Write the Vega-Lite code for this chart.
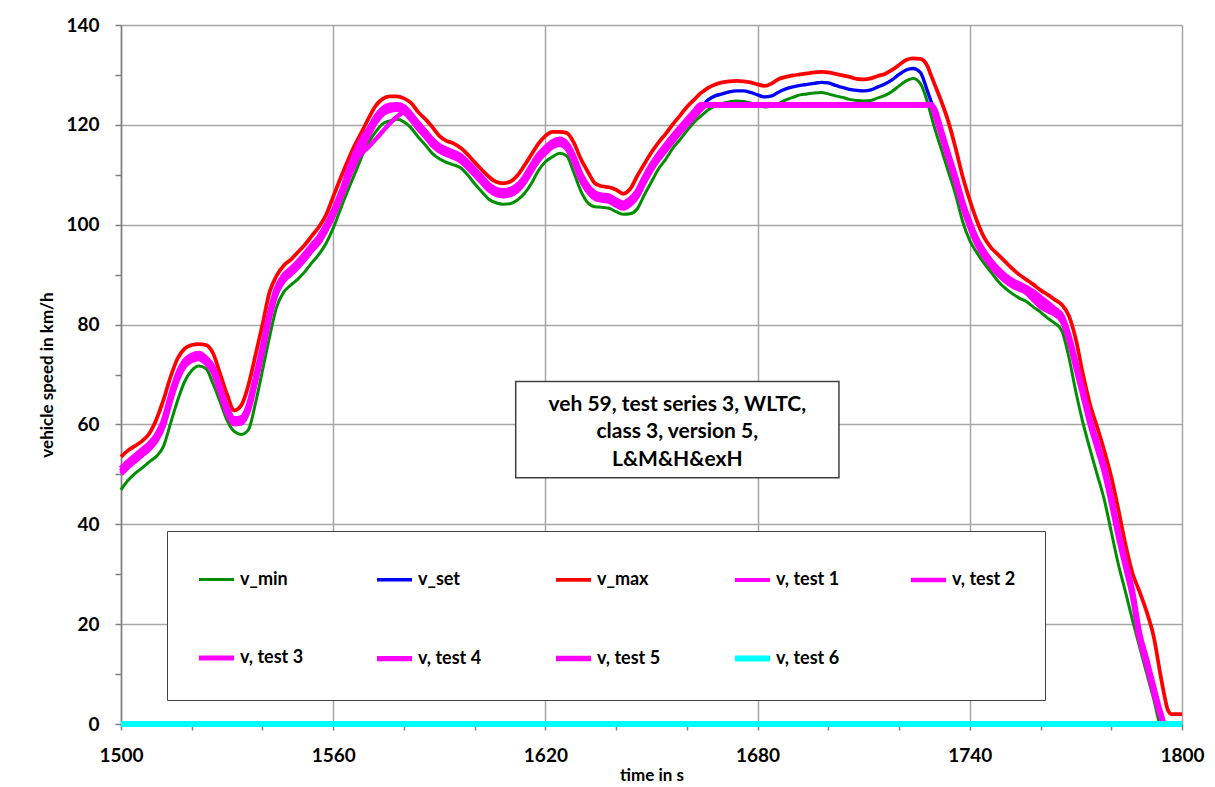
{
  "$schema": "https://vega.github.io/schema/vega-lite/v6.json",
  "width": 1061,
  "height": 699,
  "autosize": {"type": "none"},
  "padding": {"left": 121, "top": 25, "right": 33, "bottom": 63},
  "background": "white",
  "config": {
    "font": "Lato",
    "view": {"stroke": null},
    "axis": {"labelFont": "Lato", "titleFont": "Lato", "labelColor": "black", "titleColor": "black"}
  },
  "layer": [
    {
      "data": {
        "values": [
          {"time":1500,"vmin":46.9,"vset":50.6,"vmax":53.5,"t1":50.6,"t2":50.6,"t3":50.6,"t4":50.1,"t5":51.1,"t6":0},
          {"time":1502,"vmin":48.8,"vset":52.0,"vmax":54.8,"t1":52.0,"t2":52.0,"t3":52.0,"t4":51.5,"t5":52.5},
          {"time":1504,"vmin":50.2,"vset":53.2,"vmax":55.7,"t1":53.2,"t2":53.2,"t3":53.2,"t4":52.7,"t5":53.7},
          {"time":1506,"vmin":51.3,"vset":54.4,"vmax":56.7,"t1":54.4,"t2":54.4,"t3":54.4,"t4":53.9,"t5":54.9},
          {"time":1508,"vmin":52.5,"vset":55.6,"vmax":58.2,"t1":55.6,"t2":55.6,"t3":55.6,"t4":55.1,"t5":56.1},
          {"time":1510,"vmin":53.6,"vset":57.3,"vmax":61.0,"t1":57.3,"t2":57.3,"t3":57.3,"t4":56.8,"t5":57.8},
          {"time":1512,"vmin":55.6,"vset":60.2,"vmax":64.9,"t1":60.2,"t2":60.2,"t3":60.2,"t4":59.7,"t5":60.7},
          {"time":1514,"vmin":60.2,"vset":65.2,"vmax":69.5,"t1":65.2,"t2":65.2,"t3":65.2,"t4":64.7,"t5":65.7},
          {"time":1516,"vmin":64.8,"vset":69.5,"vmax":73.2,"t1":69.5,"t2":69.5,"t3":69.5,"t4":69.0,"t5":70.0},
          {"time":1518,"vmin":68.6,"vset":72.2,"vmax":75.2,"t1":72.2,"t2":72.2,"t3":72.2,"t4":71.7,"t5":72.7},
          {"time":1520,"vmin":70.8,"vset":73.3,"vmax":75.9,"t1":73.3,"t2":73.3,"t3":73.3,"t4":72.8,"t5":73.8},
          {"time":1522,"vmin":71.7,"vset":73.7,"vmax":76.1,"t1":73.7,"t2":73.7,"t3":73.7,"t4":73.2,"t5":74.2},
          {"time":1524,"vmin":71.2,"vset":72.8,"vmax":75.9,"t1":72.8,"t2":72.8,"t3":72.8,"t4":72.3,"t5":73.3},
          {"time":1526,"vmin":68.2,"vset":71.0,"vmax":74.3,"t1":71.0,"t2":71.0,"t3":71.0,"t4":70.5,"t5":71.5},
          {"time":1528,"vmin":64.6,"vset":67.0,"vmax":70.2,"t1":67.0,"t2":67.0,"t3":67.0,"t4":66.5,"t5":67.5},
          {"time":1530,"vmin":60.8,"vset":62.8,"vmax":66.0,"t1":62.8,"t2":62.8,"t3":62.8,"t4":62.3,"t5":63.3},
          {"time":1532,"vmin":58.6,"vset":60.6,"vmax":62.8,"t1":60.6,"t2":60.6,"t3":60.6,"t4":60.1,"t5":61.1},
          {"time":1534,"vmin":58.0,"vset":60.8,"vmax":63.8,"t1":60.8,"t2":60.8,"t3":60.8,"t4":60.3,"t5":61.3},
          {"time":1536,"vmin":58.9,"vset":63.2,"vmax":67.8,"t1":63.2,"t2":63.2,"t3":63.2,"t4":62.7,"t5":63.7},
          {"time":1538,"vmin":64.2,"vset":68.8,"vmax":73.8,"t1":68.8,"t2":68.8,"t3":68.8,"t4":68.3,"t5":69.3},
          {"time":1540,"vmin":70.8,"vset":75.0,"vmax":80.0,"t1":75.0,"t2":75.0,"t3":75.0,"t4":74.5,"t5":75.5},
          {"time":1542,"vmin":77.5,"vset":81.8,"vmax":86.5,"t1":81.8,"t2":81.8,"t3":81.8,"t4":81.3,"t5":82.3},
          {"time":1544,"vmin":83.5,"vset":86.8,"vmax":89.8,"t1":86.8,"t2":86.8,"t3":86.8,"t4":86.3,"t5":87.3},
          {"time":1546,"vmin":86.5,"vset":89.3,"vmax":91.8,"t1":89.3,"t2":89.3,"t3":89.3,"t4":88.8,"t5":89.8},
          {"time":1548,"vmin":87.9,"vset":90.6,"vmax":93.0,"t1":90.6,"t2":90.6,"t3":90.6,"t4":90.1,"t5":91.1},
          {"time":1550,"vmin":89.1,"vset":92.0,"vmax":94.5,"t1":92.0,"t2":92.0,"t3":92.0,"t4":91.5,"t5":92.5},
          {"time":1552,"vmin":90.6,"vset":93.6,"vmax":96.0,"t1":93.6,"t2":93.6,"t3":93.6,"t4":93.1,"t5":94.1},
          {"time":1554,"vmin":92.4,"vset":95.4,"vmax":97.8,"t1":95.4,"t2":95.4,"t3":95.4,"t4":94.9,"t5":95.9},
          {"time":1556,"vmin":94.1,"vset":97.0,"vmax":99.6,"t1":97.0,"t2":97.0,"t3":97.0,"t4":96.5,"t5":97.5},
          {"time":1558,"vmin":96.3,"vset":99.4,"vmax":102.0,"t1":99.4,"t2":99.4,"t3":99.4,"t4":98.9,"t5":99.9},
          {"time":1560,"vmin":99.3,"vset":102.2,"vmax":105.6,"t1":102.2,"t2":102.2,"t3":102.2,"t4":101.7,"t5":102.7},
          {"time":1562,"vmin":103.0,"vset":105.6,"vmax":109.2,"t1":105.6,"t2":105.6,"t3":105.6,"t4":105.1,"t5":106.1},
          {"time":1564,"vmin":106.6,"vset":109.2,"vmax":112.6,"t1":109.2,"t2":109.2,"t3":110.5,"t4":108.7,"t5":109.7},
          {"time":1566,"vmin":110.0,"vset":112.6,"vmax":115.8,"t1":112.6,"t2":112.3,"t3":114.2,"t4":112.1,"t5":113.1},
          {"time":1568,"vmin":113.5,"vset":115.6,"vmax":118.5,"t1":115.6,"t2":114.2,"t3":117.2,"t4":115.1,"t5":116.1},
          {"time":1570,"vmin":116.5,"vset":118.4,"vmax":121.3,"t1":118.4,"t2":115.6,"t3":119.2,"t4":117.9,"t5":118.9},
          {"time":1572,"vmin":118.6,"vset":121.0,"vmax":123.8,"t1":121.0,"t2":117.1,"t3":121.2,"t4":120.5,"t5":121.5},
          {"time":1574,"vmin":120.2,"vset":122.7,"vmax":125.2,"t1":122.7,"t2":118.7,"t3":122.7,"t4":122.2,"t5":123.2},
          {"time":1576,"vmin":120.8,"vset":123.4,"vmax":125.7,"t1":123.4,"t2":120.3,"t3":123.4,"t4":122.9,"t5":123.9},
          {"time":1578,"vmin":121.1,"vset":123.6,"vmax":125.7,"t1":123.6,"t2":121.6,"t3":123.6,"t4":123.1,"t5":124.0},
          {"time":1580,"vmin":120.6,"vset":123.1,"vmax":125.3,"t1":123.1,"t2":122.5,"t3":123.1,"t4":122.6,"t5":123.6},
          {"time":1582,"vmin":119.4,"vset":121.6,"vmax":124.4,"t1":121.6,"t2":121.7,"t3":121.6,"t4":121.1,"t5":122.1},
          {"time":1584,"vmin":117.6,"vset":119.8,"vmax":122.6,"t1":119.8,"t2":119.8,"t3":119.8,"t4":119.3,"t5":120.3},
          {"time":1586,"vmin":116.0,"vset":118.2,"vmax":121.2,"t1":118.2,"t2":118.2,"t3":118.2,"t4":117.7,"t5":118.7},
          {"time":1588,"vmin":114.3,"vset":116.5,"vmax":119.6,"t1":116.5,"t2":116.5,"t3":116.5,"t4":116.0,"t5":117.0},
          {"time":1590,"vmin":113.2,"vset":115.3,"vmax":117.8,"t1":115.3,"t2":115.3,"t3":115.3,"t4":114.8,"t5":115.8},
          {"time":1592,"vmin":112.5,"vset":114.6,"vmax":116.8,"t1":114.6,"t2":114.6,"t3":114.6,"t4":114.1,"t5":115.1},
          {"time":1594,"vmin":112.0,"vset":114.0,"vmax":116.3,"t1":114.0,"t2":114.0,"t3":114.0,"t4":113.5,"t5":114.5},
          {"time":1596,"vmin":111.4,"vset":113.3,"vmax":115.4,"t1":113.3,"t2":113.3,"t3":113.3,"t4":112.8,"t5":113.8},
          {"time":1598,"vmin":110.0,"vset":112.0,"vmax":114.1,"t1":112.0,"t2":112.0,"t3":112.0,"t4":111.5,"t5":112.5},
          {"time":1600,"vmin":108.2,"vset":110.5,"vmax":112.5,"t1":110.5,"t2":110.5,"t3":110.5,"t4":110.0,"t5":111.0},
          {"time":1602,"vmin":106.6,"vset":109.0,"vmax":111.0,"t1":109.0,"t2":109.0,"t3":109.0,"t4":108.5,"t5":109.5},
          {"time":1604,"vmin":105.1,"vset":107.5,"vmax":109.6,"t1":107.5,"t2":107.5,"t3":107.5,"t4":107.0,"t5":108.0},
          {"time":1606,"vmin":104.4,"vset":106.6,"vmax":108.6,"t1":106.6,"t2":106.6,"t3":106.6,"t4":106.1,"t5":107.1},
          {"time":1608,"vmin":104.1,"vset":106.3,"vmax":108.3,"t1":106.3,"t2":106.3,"t3":106.3,"t4":105.8,"t5":106.8},
          {"time":1610,"vmin":104.2,"vset":106.5,"vmax":108.6,"t1":106.5,"t2":106.5,"t3":106.5,"t4":106.0,"t5":107.0},
          {"time":1612,"vmin":104.9,"vset":107.3,"vmax":109.8,"t1":107.3,"t2":107.3,"t3":107.3,"t4":106.8,"t5":107.8},
          {"time":1614,"vmin":106.2,"vset":108.9,"vmax":111.8,"t1":108.9,"t2":108.9,"t3":108.9,"t4":108.4,"t5":109.4},
          {"time":1616,"vmin":108.2,"vset":111.2,"vmax":114.0,"t1":111.2,"t2":111.2,"t3":111.2,"t4":110.7,"t5":111.7},
          {"time":1618,"vmin":110.8,"vset":113.4,"vmax":116.2,"t1":113.4,"t2":113.4,"t3":113.4,"t4":112.9,"t5":113.9},
          {"time":1620,"vmin":112.6,"vset":114.9,"vmax":117.8,"t1":114.9,"t2":114.9,"t3":114.9,"t4":114.4,"t5":115.4},
          {"time":1622,"vmin":113.6,"vset":116.1,"vmax":118.6,"t1":116.1,"t2":116.1,"t3":116.1,"t4":115.6,"t5":116.6},
          {"time":1624,"vmin":114.3,"vset":116.6,"vmax":118.6,"t1":116.6,"t2":116.6,"t3":116.6,"t4":116.1,"t5":117.1},
          {"time":1626,"vmin":113.8,"vset":115.8,"vmax":118.4,"t1":115.8,"t2":115.8,"t3":115.8,"t4":115.3,"t5":116.3},
          {"time":1628,"vmin":110.5,"vset":113.2,"vmax":116.5,"t1":113.2,"t2":113.2,"t3":113.2,"t4":112.7,"t5":113.7},
          {"time":1630,"vmin":106.8,"vset":109.6,"vmax":113.2,"t1":109.6,"t2":109.6,"t3":109.6,"t4":109.1,"t5":110.1},
          {"time":1632,"vmin":104.4,"vset":107.2,"vmax":110.6,"t1":107.2,"t2":107.2,"t3":107.2,"t4":106.7,"t5":107.7},
          {"time":1634,"vmin":103.6,"vset":105.8,"vmax":108.3,"t1":105.8,"t2":105.8,"t3":105.8,"t4":105.3,"t5":106.3},
          {"time":1636,"vmin":103.5,"vset":105.4,"vmax":107.7,"t1":105.4,"t2":105.4,"t3":105.4,"t4":104.9,"t5":105.9},
          {"time":1638,"vmin":103.3,"vset":105.2,"vmax":107.5,"t1":105.2,"t2":105.2,"t3":105.2,"t4":104.7,"t5":105.7},
          {"time":1640,"vmin":102.6,"vset":104.4,"vmax":107.0,"t1":104.4,"t2":104.4,"t3":104.4,"t4":103.9,"t5":104.9},
          {"time":1642,"vmin":102.1,"vset":103.8,"vmax":106.2,"t1":103.8,"t2":103.8,"t3":103.8,"t4":103.3,"t5":104.3},
          {"time":1644,"vmin":102.2,"vset":104.6,"vmax":107.2,"t1":104.6,"t2":104.6,"t3":104.6,"t4":104.1,"t5":105.1},
          {"time":1646,"vmin":103.2,"vset":106.2,"vmax":109.8,"t1":106.2,"t2":106.2,"t3":106.2,"t4":105.7,"t5":106.7},
          {"time":1648,"vmin":106.0,"vset":109.0,"vmax":112.2,"t1":109.0,"t2":109.0,"t3":109.0,"t4":108.5,"t5":109.5},
          {"time":1650,"vmin":108.6,"vset":111.5,"vmax":114.5,"t1":111.5,"t2":111.5,"t3":111.5,"t4":111.0,"t5":112.0},
          {"time":1652,"vmin":111.2,"vset":113.6,"vmax":116.5,"t1":113.6,"t2":113.6,"t3":113.6,"t4":113.1,"t5":114.1},
          {"time":1654,"vmin":113.1,"vset":115.4,"vmax":118.2,"t1":115.4,"t2":115.4,"t3":115.4,"t4":114.9,"t5":115.9},
          {"time":1656,"vmin":115.3,"vset":117.2,"vmax":120.1,"t1":117.2,"t2":117.2,"t3":117.2,"t4":116.7,"t5":117.7},
          {"time":1658,"vmin":117.0,"vset":118.9,"vmax":121.8,"t1":118.9,"t2":118.9,"t3":118.9,"t4":118.4,"t5":119.4},
          {"time":1660,"vmin":118.8,"vset":120.5,"vmax":123.6,"t1":120.5,"t2":120.5,"t3":120.5,"t4":120.0,"t5":121.0},
          {"time":1662,"vmin":120.5,"vset":122.1,"vmax":125.0,"t1":122.1,"t2":122.1,"t3":122.1,"t4":121.6,"t5":122.6},
          {"time":1664,"vmin":121.8,"vset":123.6,"vmax":126.4,"t1":123.6,"t2":123.6,"t3":123.6,"t4":123.1,"t5":124.0},
          {"time":1665,"vmin":122.4,"vset":124.3,"vmax":126.9,"t1":124.0,"t2":124.0,"t3":124.0,"t4":123.7,"t5":124.0},
          {"time":1666,"vmin":123.0,"vset":125.0,"vmax":127.4,"t1":124.0,"t2":124.0,"t3":124.0,"t4":124.0,"t5":124.0},
          {"time":1668,"vmin":123.8,"vset":125.8,"vmax":128.1,"t1":124.0,"t2":124.0,"t3":124.0,"t4":124.0,"t5":124.0},
          {"time":1670,"vmin":124.3,"vset":126.2,"vmax":128.5,"t1":124.0,"t2":124.0,"t3":124.0,"t4":124.0,"t5":124.0},
          {"time":1672,"vmin":124.6,"vset":126.6,"vmax":128.7,"t1":124.0,"t2":124.0,"t3":124.0,"t4":124.0,"t5":124.0},
          {"time":1674,"vmin":124.8,"vset":126.8,"vmax":128.8,"t1":124.0,"t2":124.0,"t3":124.0,"t4":124.0,"t5":124.0},
          {"time":1676,"vmin":124.7,"vset":126.8,"vmax":128.7,"t1":124.0,"t2":124.0,"t3":124.0,"t4":124.0,"t5":124.0},
          {"time":1678,"vmin":124.4,"vset":126.5,"vmax":128.5,"t1":124.0,"t2":124.0,"t3":124.0,"t4":124.0,"t5":124.0},
          {"time":1680,"vmin":123.9,"vset":126.0,"vmax":128.1,"t1":124.0,"t2":124.0,"t3":124.0,"t4":124.0,"t5":124.0},
          {"time":1682,"vmin":123.6,"vset":125.6,"vmax":127.8,"t1":124.0,"t2":124.0,"t3":124.0,"t4":124.0,"t5":124.0},
          {"time":1684,"vmin":123.7,"vset":125.8,"vmax":128.3,"t1":124.0,"t2":124.0,"t3":124.0,"t4":124.0,"t5":124.0},
          {"time":1686,"vmin":124.3,"vset":126.6,"vmax":129.2,"t1":124.0,"t2":124.0,"t3":124.0,"t4":124.0,"t5":124.0},
          {"time":1688,"vmin":125.0,"vset":127.2,"vmax":129.6,"t1":124.0,"t2":124.0,"t3":124.0,"t4":124.0,"t5":124.0},
          {"time":1690,"vmin":125.5,"vset":127.6,"vmax":129.9,"t1":124.0,"t2":124.0,"t3":124.0,"t4":124.0,"t5":124.0},
          {"time":1692,"vmin":126.0,"vset":127.9,"vmax":130.1,"t1":124.0,"t2":124.0,"t3":124.0,"t4":124.0,"t5":124.0},
          {"time":1694,"vmin":126.2,"vset":128.1,"vmax":130.3,"t1":124.0,"t2":124.0,"t3":124.0,"t4":124.0,"t5":124.0},
          {"time":1696,"vmin":126.4,"vset":128.3,"vmax":130.5,"t1":124.0,"t2":124.0,"t3":124.0,"t4":124.0,"t5":124.0},
          {"time":1698,"vmin":126.5,"vset":128.5,"vmax":130.6,"t1":124.0,"t2":124.0,"t3":124.0,"t4":124.0,"t5":124.0},
          {"time":1700,"vmin":126.2,"vset":128.4,"vmax":130.5,"t1":124.0,"t2":124.0,"t3":124.0,"t4":124.0,"t5":124.0},
          {"time":1702,"vmin":125.8,"vset":127.9,"vmax":130.2,"t1":124.0,"t2":124.0,"t3":124.0,"t4":124.0,"t5":124.0},
          {"time":1704,"vmin":125.5,"vset":127.5,"vmax":129.9,"t1":124.0,"t2":124.0,"t3":124.0,"t4":124.0,"t5":124.0},
          {"time":1706,"vmin":125.1,"vset":127.1,"vmax":129.6,"t1":124.0,"t2":124.0,"t3":124.0,"t4":124.0,"t5":124.0},
          {"time":1708,"vmin":124.9,"vset":126.9,"vmax":129.2,"t1":124.0,"t2":124.0,"t3":124.0,"t4":124.0,"t5":124.0},
          {"time":1710,"vmin":124.8,"vset":126.8,"vmax":129.1,"t1":124.0,"t2":124.0,"t3":124.0,"t4":124.0,"t5":124.0},
          {"time":1712,"vmin":124.9,"vset":127.0,"vmax":129.3,"t1":124.0,"t2":124.0,"t3":124.0,"t4":124.0,"t5":124.0},
          {"time":1714,"vmin":125.4,"vset":127.6,"vmax":129.8,"t1":124.0,"t2":124.0,"t3":124.0,"t4":124.0,"t5":124.0},
          {"time":1716,"vmin":125.9,"vset":128.2,"vmax":130.2,"t1":124.0,"t2":124.0,"t3":124.0,"t4":124.0,"t5":124.0},
          {"time":1718,"vmin":126.7,"vset":129.0,"vmax":131.0,"t1":124.0,"t2":124.0,"t3":124.0,"t4":124.0,"t5":124.0},
          {"time":1720,"vmin":127.8,"vset":130.1,"vmax":132.0,"t1":124.0,"t2":124.0,"t3":124.0,"t4":124.0,"t5":124.0},
          {"time":1722,"vmin":128.8,"vset":131.0,"vmax":133.0,"t1":124.0,"t2":124.0,"t3":124.0,"t4":124.0,"t5":124.0},
          {"time":1724,"vmin":129.3,"vset":131.3,"vmax":133.3,"t1":124.0,"t2":124.0,"t3":124.0,"t4":124.0,"t5":124.0},
          {"time":1726,"vmin":128.3,"vset":130.5,"vmax":133.2,"t1":124.0,"t2":124.0,"t3":124.0,"t4":124.0,"t5":124.0},
          {"time":1728,"vmin":124.6,"vset":126.8,"vmax":131.8,"t1":124.0,"t2":124.0,"t3":124.0,"t4":124.0,"t5":124.0},
          {"time":1729,"vmin":122.0,"vset":124.8,"vmax":130.0,"t1":124.0,"t2":124.0,"t3":124.0,"t4":124.0,"t5":124.0},
          {"time":1730,"vmin":119.5,"vset":122.7,"vmax":128.2,"t1":122.7,"t2":122.7,"t3":122.7,"t4":122.2,"t5":123.2},
          {"time":1732,"vmin":115.0,"vset":118.2,"vmax":124.6,"t1":118.2,"t2":118.2,"t3":118.2,"t4":117.7,"t5":118.7},
          {"time":1734,"vmin":110.5,"vset":113.5,"vmax":120.5,"t1":113.5,"t2":113.5,"t3":113.5,"t4":113.0,"t5":114.0},
          {"time":1736,"vmin":106.0,"vset":109.0,"vmax":115.3,"t1":109.0,"t2":109.0,"t3":109.0,"t4":108.5,"t5":109.5},
          {"time":1738,"vmin":100.6,"vset":104.0,"vmax":109.6,"t1":104.0,"t2":104.0,"t3":104.0,"t4":103.5,"t5":104.5},
          {"time":1740,"vmin":96.8,"vset":100.0,"vmax":104.9,"t1":100.0,"t2":100.0,"t3":100.0,"t4":99.5,"t5":100.5},
          {"time":1742,"vmin":94.4,"vset":96.6,"vmax":100.8,"t1":96.6,"t2":96.6,"t3":96.6,"t4":96.1,"t5":97.1},
          {"time":1744,"vmin":92.3,"vset":94.2,"vmax":97.5,"t1":94.2,"t2":94.2,"t3":94.2,"t4":93.7,"t5":94.7},
          {"time":1746,"vmin":90.5,"vset":92.2,"vmax":95.4,"t1":92.2,"t2":92.2,"t3":92.2,"t4":91.7,"t5":92.7},
          {"time":1748,"vmin":88.7,"vset":90.6,"vmax":94.0,"t1":90.6,"t2":90.6,"t3":90.6,"t4":90.1,"t5":91.1},
          {"time":1750,"vmin":87.3,"vset":89.3,"vmax":92.6,"t1":89.3,"t2":89.3,"t3":89.3,"t4":88.8,"t5":89.8},
          {"time":1752,"vmin":86.2,"vset":88.3,"vmax":91.2,"t1":88.3,"t2":88.3,"t3":88.3,"t4":87.8,"t5":88.8},
          {"time":1754,"vmin":85.3,"vset":87.6,"vmax":90.0,"t1":87.6,"t2":87.6,"t3":87.6,"t4":87.1,"t5":88.1},
          {"time":1756,"vmin":84.6,"vset":86.9,"vmax":89.0,"t1":86.9,"t2":86.9,"t3":86.9,"t4":86.4,"t5":87.4},
          {"time":1758,"vmin":83.5,"vset":86.0,"vmax":88.0,"t1":86.0,"t2":86.0,"t3":86.0,"t4":85.0,"t5":86.5},
          {"time":1760,"vmin":82.5,"vset":84.9,"vmax":86.9,"t1":84.9,"t2":84.9,"t3":84.9,"t4":83.6,"t5":85.4},
          {"time":1762,"vmin":81.3,"vset":83.8,"vmax":86.0,"t1":83.8,"t2":83.8,"t3":83.8,"t4":82.8,"t5":84.3},
          {"time":1764,"vmin":80.3,"vset":82.6,"vmax":85.0,"t1":82.6,"t2":82.6,"t3":82.6,"t4":82.1,"t5":83.1},
          {"time":1766,"vmin":78.8,"vset":81.3,"vmax":84.0,"t1":81.3,"t2":81.3,"t3":81.3,"t4":80.8,"t5":81.8},
          {"time":1768,"vmin":73.5,"vset":77.3,"vmax":81.8,"t1":77.3,"t2":77.3,"t3":77.3,"t4":76.8,"t5":77.8},
          {"time":1770,"vmin":66.5,"vset":71.8,"vmax":77.0,"t1":71.8,"t2":71.8,"t3":71.8,"t4":71.3,"t5":72.3},
          {"time":1772,"vmin":60.3,"vset":66.2,"vmax":70.0,"t1":66.2,"t2":66.2,"t3":66.2,"t4":65.7,"t5":66.7},
          {"time":1774,"vmin":55.0,"vset":60.5,"vmax":64.0,"t1":60.5,"t2":60.5,"t3":60.5,"t4":60.0,"t5":61.0},
          {"time":1776,"vmin":50.0,"vset":55.8,"vmax":59.5,"t1":55.8,"t2":55.8,"t3":55.8,"t4":55.3,"t5":56.3},
          {"time":1778,"vmin":45.0,"vset":51.0,"vmax":54.8,"t1":51.0,"t2":51.0,"t3":51.0,"t4":50.5,"t5":51.5},
          {"time":1780,"vmin":38.5,"vset":44.8,"vmax":49.5,"t1":44.8,"t2":44.8,"t3":44.8,"t4":44.3,"t5":45.3},
          {"time":1782,"vmin":32.0,"vset":38.0,"vmax":43.0,"t1":38.0,"t2":38.0,"t3":38.0,"t4":37.5,"t5":38.5},
          {"time":1784,"vmin":26.5,"vset":32.0,"vmax":36.0,"t1":32.0,"t2":32.0,"t3":32.0,"t4":31.5,"t5":32.5},
          {"time":1786,"vmin":20.8,"vset":26.0,"vmax":30.2,"t1":26.0,"t2":26.0,"t3":26.0,"t4":25.5,"t5":26.5},
          {"time":1788,"vmin":15.5,"vset":17.6,"vmax":26.5,"t1":17.6,"t2":17.6,"t3":17.6,"t4":17.1,"t5":18.1},
          {"time":1790,"vmin":10.2,"vset":12.4,"vmax":22.5,"t1":12.4,"t2":12.4,"t3":12.4,"t4":11.9,"t5":12.9},
          {"time":1792,"vmin":5.0,"vset":6.8,"vmax":17.5,"t1":6.8,"t2":6.8,"t3":6.8,"t4":6.3,"t5":7.3},
          {"time":1794,"vmin":0.0,"vset":1.8,"vmax":9.5,"t1":1.8,"t2":1.8,"t3":1.8,"t4":1.5,"t5":2.1},
          {"time":1795,"vset":0.0,"vmax":5.8,"t1":0.0,"t2":0.0,"t3":0.0,"t4":0.0,"t5":0.0},
          {"time":1796,"vmax":2.8},
          {"time":1797,"vmax":2.0},
          {"time":1800,"vmin":0.0,"vset":0.0,"vmax":2.0,"t1":0.0,"t2":0.0,"t3":0.0,"t4":0.0,"t5":0.0,"t6":0}
        ]
      },
      "transform": [
        {"fold": ["vmin", "vset", "vmax", "t1", "t2", "t3", "t4", "t5", "t6"], "as": ["series", "v"]},
        {"filter": "isValid(datum.v)"}
      ],
      "encoding": {
        "x": {
          "field": "time",
          "type": "quantitative",
          "scale": {"domain": [1500, 1800], "nice": false, "zero": false},
          "axis": {
            "values": [1500,1510,1520,1530,1540,1550,1560,1570,1580,1590,1600,1610,1620,1630,1640,1650,1660,1670,1680,1690,1700,1710,1720,1730,1740,1750,1760,1770,1780,1790,1800],
            "labelExpr": "datum.value % 60 === 0 ? datum.label : ''",
            "format": "d",
            "labelOverlap": false,
            "labelFlush": false,
            "grid": true,
            "gridColor": "#a6a6a6",
            "gridWidth": 1.5,
            "gridOpacity": {"condition": {"test": "datum.value % 60 === 0", "value": 1}, "value": 0},
            "domainColor": "#808080",
            "domainWidth": 1.5,
            "tickColor": "#808080",
            "tickWidth": 1.5,
            "tickSize": 6,
            "labelFontSize": 19,
            "labelFontWeight": "bold",
            "labelPadding": 16,
            "title": "time in s",
            "titleFontSize": 17,
            "titleFontWeight": "bold",
            "titlePadding": 2
          }
        },
        "y": {
          "field": "v",
          "type": "quantitative",
          "scale": {"domain": [0, 140], "nice": false},
          "axis": {
            "values": [0,5,10,15,20,25,30,35,40,45,50,55,60,65,70,75,80,85,90,95,100,105,110,115,120,125,130,135,140],
            "labelExpr": "datum.value % 20 === 0 ? datum.label : ''",
            "labelOverlap": false,
            "labelFlush": false,
            "grid": true,
            "gridColor": "#a6a6a6",
            "gridWidth": 1.5,
            "gridOpacity": {"condition": {"test": "datum.value % 20 === 0", "value": 1}, "value": 0},
            "domainColor": "#808080",
            "domainWidth": 1.5,
            "tickColor": "#808080",
            "tickWidth": 1.5,
            "tickSize": 6,
            "labelFontSize": 19,
            "labelFontWeight": "bold",
            "labelPadding": 16,
            "title": "vehicle speed in km/h",
            "titleFontSize": 17,
            "titleFontWeight": "bold",
            "titlePadding": 9
          }
        },
        "color": {
          "field": "series",
          "type": "nominal",
          "scale": {
            "domain": ["vmin", "vset", "vmax", "t1", "t2", "t3", "t4", "t5", "t6"],
            "range": ["#008f00", "#0000ff", "#ff0000", "#ff00ff", "#ff00ff", "#ff00ff", "#ff00ff", "#ff00ff", "#00ffff"]
          },
          "legend": {
            "orient": "none",
            "legendX": 46,
            "legendY": 506,
            "direction": "horizontal",
            "columns": 5,
            "title": null,
            "symbolType": "stroke",
            "symbolSize": 1225,
            "labelFontSize": 18,
            "labelFontWeight": "bold",
            "labelColor": "black",
            "labelOffset": 3,
            "labelLimit": 0,
            "columnPadding": 62,
            "rowPadding": 49,
            "padding": 29,
            "strokeColor": "#404040",
            "fillColor": "white",
            "labelExpr": "{'vmin':'v_min','vset':'v_set','vmax':'v_max','t1':'v, test 1','t2':'v, test 2','t3':'v, test 3','t4':'v, test 4','t5':'v, test 5','t6':'v, test 6'}[datum.value]"
          }
        },
        "strokeWidth": {
          "field": "series",
          "type": "nominal",
          "scale": {
            "domain": ["vmin", "vset", "vmax", "t1", "t2", "t3", "t4", "t5", "t6"],
            "range": [3, 6, 3, 5, 5, 5, 5, 5, 5]
          },
          "legend": {
            "orient": "none",
            "legendX": 46,
            "legendY": 506,
            "direction": "horizontal",
            "columns": 5,
            "title": null,
            "symbolType": "stroke",
            "symbolSize": 1225,
            "labelFontSize": 18,
            "labelFontWeight": "bold",
            "labelColor": "black",
            "labelOffset": 3,
            "labelLimit": 0,
            "columnPadding": 62,
            "rowPadding": 49,
            "padding": 29,
            "strokeColor": "#404040",
            "fillColor": "white",
            "labelExpr": "{'vmin':'v_min','vset':'v_set','vmax':'v_max','t1':'v, test 1','t2':'v, test 2','t3':'v, test 3','t4':'v, test 4','t5':'v, test 5','t6':'v, test 6'}[datum.value]"
          }
        }
      },
      "layer": [
        {
          "transform": [{"filter": "datum.series === 'vmin' || datum.series === 'vmax'"}],
          "mark": {"type": "line", "interpolate": "monotone"}
        },
        {
          "transform": [{"filter": "datum.series === 'vset'"}],
          "mark": {"type": "line", "interpolate": "monotone"}
        },
        {
          "transform": [{"filter": "indexof(['t1','t2','t3','t4','t5'], datum.series) >= 0"}],
          "mark": {"type": "line", "interpolate": "monotone"}
        },
        {
          "transform": [{"filter": "datum.series === 't6'"}],
          "mark": {"type": "line"}
        }
      ]
    },
    {
      "data": {"values": [{"note": "veh 59, test series 3, WLTC, class 3, version 5, L&M&H&exH"}]},
      "mark": {"type": "rect", "fill": "white", "stroke": "#404040", "strokeWidth": 1.5},
      "encoding": {
        "x": {"datum": 1611.6, "type": "quantitative"},
        "x2": {"datum": 1703},
        "y": {"datum": 68.6, "type": "quantitative"},
        "y2": {"datum": 49.3}
      }
    },
    {
      "data": {"values": [{"line1": "veh 59, test series 3, WLTC,", "line2": "class 3, version 5,", "line3": "L&M&H&exH"}]},
      "mark": {
        "type": "text",
        "font": "Lato",
        "fontSize": 21,
        "fontWeight": "bold",
        "lineHeight": 27.5,
        "align": "center",
        "baseline": "middle",
        "color": "black"
      },
      "encoding": {
        "x": {"datum": 1657.3, "type": "quantitative"},
        "y": {"datum": 63.9, "type": "quantitative"},
        "text": {"value": ["veh 59, test series 3, WLTC,", "class 3, version 5,", "L&M&H&exH"]}
      }
    }
  ]
}
